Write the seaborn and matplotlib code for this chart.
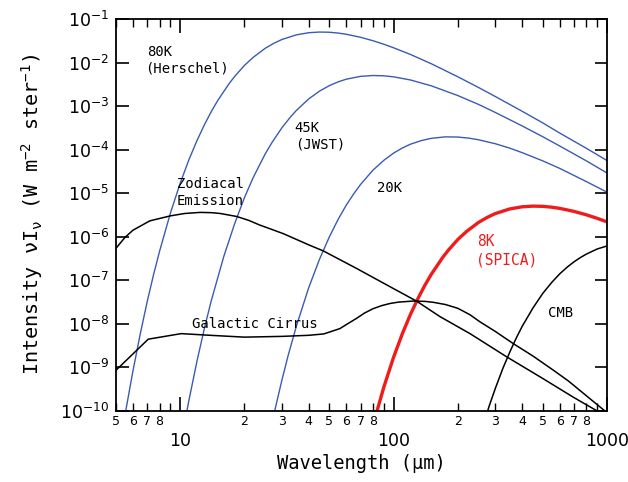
import numpy as np
import pandas as pd
import matplotlib
matplotlib.use("Agg")
import matplotlib.pyplot as plt
from matplotlib.ticker import FixedLocator, FixedFormatter, NullLocator
import seaborn as sns

# ---- data (wavelength in micron, intensity in W m^-2 sr^-1) ----
bb80_wl = [5.5, 6, 6.5, 7, 7.5, 8, 9, 10, 11, 12, 13, 14, 15, 17, 18, 20, 22, 25, 27.5, 30, 35, 40, 45, 50, 55, 60, 70, 80, 90, 100, 120, 150, 200, 250, 300, 400, 500, 600, 800, 1000]
bb80 = [7.6e-11, 8.1e-10, 5.9e-9, 3.2e-8, 1.34e-7, 4.6e-7, 3.5e-6, 1.7e-5, 5.96e-5, 1.64e-4, 3.77e-4, 7.56e-4, 1.35e-3, 3.35e-3, 4.8e-3, 8.6e-3, 1.32e-2, 2.12e-2, 2.78e-2, 3.39e-2, 4.32e-2, 4.84e-2, 5.02e-2, 4.96e-2, 4.75e-2, 4.46e-2, 3.8e-2, 3.17e-2, 2.63e-2, 2.18e-2, 1.53e-2, 9.4e-3, 4.7e-3, 2.67e-3, 1.65e-3, 7.6e-4, 4.1e-4, 2.4e-4, 1.07e-4, 5.6e-5]

bb45_wl = [10.5, 11, 12, 13, 14, 16, 18, 20, 22, 25, 27, 30, 33, 35, 40, 45, 50, 55, 60, 70, 80, 90, 100, 120, 150, 200, 250, 300, 400, 500, 600, 800, 1000]
bb45 = [5.4e-11, 1.8e-10, 1.43e-9, 8.1e-9, 3.46e-8, 3.5e-7, 2.0e-6, 7.9e-6, 2.3e-5, 7.9e-5, 1.49e-4, 3.2e-4, 5.75e-4, 7.9e-4, 1.46e-3, 2.21e-3, 2.95e-3, 3.6e-3, 4.14e-3, 4.81e-3, 5.03e-3, 4.95e-3, 4.69e-3, 3.97e-3, 2.92e-3, 1.74e-3, 1.09e-3, 7.1e-4, 3.5e-4, 1.97e-4, 1.21e-4, 5.5e-5, 2.9e-5]

bb20_wl = [27, 28, 30, 32, 35, 40, 45, 50, 55, 60, 65, 70, 80, 90, 100, 110, 120, 135, 150, 175, 200, 225, 250, 300, 350, 400, 500, 600, 800, 1000]
bb20 = [5.6e-11, 1.23e-10, 5.2e-10, 1.81e-9, 8.7e-9, 6.7e-8, 3.06e-7, 9.9e-7, 2.51e-6, 5.3e-6, 9.6e-6, 1.58e-5, 3.36e-5, 5.66e-5, 8.3e-5, 1.09e-4, 1.33e-4, 1.61e-4, 1.81e-4, 1.96e-4, 1.94e-4, 1.83e-4, 1.68e-4, 1.36e-4, 1.08e-4, 8.5e-5, 5.5e-5, 3.7e-5, 1.84e-5, 1.05e-5]

bb8_wl = [80, 90, 100, 110, 120, 130, 140, 150, 170, 180, 200, 220, 250, 275, 300, 350, 400, 450, 500, 550, 600, 700, 800, 900, 1000]
bb8 = [4.6e-11, 3.5e-10, 1.7e-9, 5.96e-9, 1.64e-8, 3.77e-8, 7.56e-8, 1.35e-7, 3.35e-7, 4.8e-7, 8.6e-7, 1.32e-6, 2.12e-6, 2.78e-6, 3.39e-6, 4.32e-6, 4.84e-6, 5.02e-6, 4.96e-6, 4.75e-6, 4.46e-6, 3.8e-6, 3.17e-6, 2.63e-6, 2.18e-6]

cmb_wl = [250, 280, 300, 325, 350, 375, 400, 450, 500, 550, 600, 650, 700, 750, 800, 900, 1000]
cmb = [2.05e-11, 1.25e-10, 3.3e-10, 9.35e-10, 2.2e-9, 4.6e-9, 8.6e-9, 2.3e-8, 4.95e-8, 8.8e-8, 1.39e-7, 1.98e-7, 2.63e-7, 3.3e-7, 3.96e-7, 5.2e-7, 6.1e-7]

zodi_wl = [5, 5.5, 6, 7.2, 9, 10.5, 12.4, 14, 15.4, 18.4, 21, 23.6, 27, 30.4, 40.5, 46.8, 67, 96, 128, 165, 228, 338, 500, 700, 895, 1000]
zodi = [5.4e-7, 9.5e-7, 1.4e-6, 2.3e-6, 3.0e-6, 3.4e-6, 3.6e-6, 3.55e-6, 3.4e-6, 2.9e-6, 2.35e-6, 1.84e-6, 1.45e-6, 1.17e-6, 6.3e-7, 4.7e-7, 1.86e-7, 7.1e-8, 3.3e-8, 1.45e-8, 5.9e-9, 1.74e-9, 5.5e-10, 2.0e-10, 1.0e-10, 7e-11]

cirrus_wl = [5, 7.08, 10.1, 13.8, 20, 30, 40, 47, 50, 56, 61, 67, 73, 80, 88, 96, 105, 123, 140, 153, 165, 175, 200, 228, 254, 300, 363, 450, 561, 660, 776, 1000]
cirrus = [8.5e-10, 4.4e-9, 5.9e-9, 5.4e-9, 4.9e-9, 5.1e-9, 5.4e-9, 5.8e-9, 6.4e-9, 7.7e-9, 1.0e-8, 1.32e-8, 1.75e-8, 2.2e-8, 2.6e-8, 2.9e-8, 3.12e-8, 3.3e-8, 3.25e-8, 3.1e-8, 2.9e-8, 2.75e-8, 2.25e-8, 1.6e-8, 1.1e-8, 6.6e-9, 3.5e-9, 1.8e-9, 8.5e-10, 4.8e-10, 2.5e-10, 9e-11]

x_major = [10, 100, 1000]
x_major_labels = ["10", "100", "1000"]
x_minor = [5, 6, 7, 8, 9, 20, 30, 40, 50, 60, 70, 80, 90, 200, 300, 400, 500, 600, 700, 800, 900]
x_minor_labels = ["5", "6", "7", "8", "", "2", "3", "4", "5", "6", "7", "8", "", "2", "3", "4", "5", "6", "7", "8", ""]
y_exponents = [-10, -9, -8, -7, -6, -5, -4, -3, -2, -1]

BLUE = "#3a5bb0"
RED = "#ee1c1c"
BLACK = "#000000"

curves = [
    ("80K", bb80_wl, bb80, BLUE, 1.0),
    ("45K", bb45_wl, bb45, BLUE, 1.0),
    ("20K", bb20_wl, bb20, BLUE, 1.0),
    ("8K", bb8_wl, bb8, RED, 2.4),
    ("CMB", cmb_wl, cmb, BLACK, 1.1),
    ("Zodiacal", zodi_wl, zodi, BLACK, 1.1),
    ("Cirrus", cirrus_wl, cirrus, BLACK, 1.1),
]

df = pd.concat([pd.DataFrame({"curve": n, "wl": w, "val": v}) for n, w, v, _, _ in curves],
               ignore_index=True)

sns.set_style("ticks")
mono = ["DejaVu Sans Mono", "DejaVu Sans"]
plt.rcParams["font.family"] = ["DejaVu Sans"]
plt.rcParams["text.color"] = "black"
plt.rcParams["axes.labelcolor"] = "black"
plt.rcParams["xtick.color"] = "black"
plt.rcParams["ytick.color"] = "black"

fig = plt.figure(figsize=(6.28, 4.82), dpi=100)
ax = fig.add_axes([116 / 628, 1 - 410.7 / 482, 491 / 628, 391.7 / 482])

for name, w, v, col, lw in curves:
    sub = df[df["curve"] == name]
    sns.lineplot(data=sub, x="wl", y="val", color=col, linewidth=lw, ax=ax,
                 estimator=None, sort=False, legend=False)

ax.set_xscale("log")
ax.set_yscale("log")
ax.set_xlim(5, 1000)
ax.set_ylim(1e-10, 1e-1)

ax.xaxis.set_major_locator(FixedLocator(x_major))
ax.xaxis.set_major_formatter(FixedFormatter(x_major_labels))
ax.xaxis.set_minor_locator(FixedLocator(x_minor))
ax.xaxis.set_minor_formatter(FixedFormatter(x_minor_labels))
ax.yaxis.set_major_locator(FixedLocator([10.0 ** e for e in y_exponents]))
ax.yaxis.set_major_formatter(FixedFormatter([r"$10^{%d}$" % e for e in y_exponents]))
ax.yaxis.set_minor_locator(NullLocator())

ax.tick_params(axis="x", which="major", direction="in", length=10, width=1.2,
               top=True, pad=15, labelsize=12.5, colors="black")
ax.tick_params(axis="x", which="minor", direction="in", length=6, width=1.0,
               top=True, pad=3, labelsize=9, colors="black")
ax.tick_params(axis="y", which="major", direction="in", length=9, width=1.2,
               right=True, pad=5, labelsize=12.5, colors="black")
for s in ax.spines.values():
    s.set_linewidth(1.3)
    s.set_color("black")

ax.set_xlabel("Wavelength (\u03bcm)", family=mono, fontsize=13.5, labelpad=3)
ax.set_ylabel("Intensity \u03bdI$_\\mathregular{\u03bd}$ (W m$^\\mathregular{-2}$ ster$^\\mathregular{-1}$)",
              family=mono, fontsize=14.5, labelpad=11)


def px(xp, yp):
    return ((xp - 116) / 491, (410.7 - yp) / 391.7)


annots = [
    ("80K", 147, 52, "black"),
    ("(Herschel)", 145, 69, "black"),
    ("45K", 294, 128, "black"),
    ("(JWST)", 295, 145, "black"),
    ("20K", 377, 188, "black"),
    ("Zodiacal", 177, 184, "black"),
    ("Emission", 177, 201, "black"),
    ("8K", 477, 241, RED),
    ("(SPICA)", 476, 260, RED),
    ("Galactic Cirrus", 192, 324, "black"),
    ("CMB", 548, 313, "black"),
]
for t, xp, yp, c in annots:
    fx, fy = px(xp, yp)
    ax.text(fx, fy, t, transform=ax.transAxes, ha="left", va="center",
            family=mono, fontsize=10.5 if c == RED else 10, color=c)

fig.savefig("out.png", dpi=100)
